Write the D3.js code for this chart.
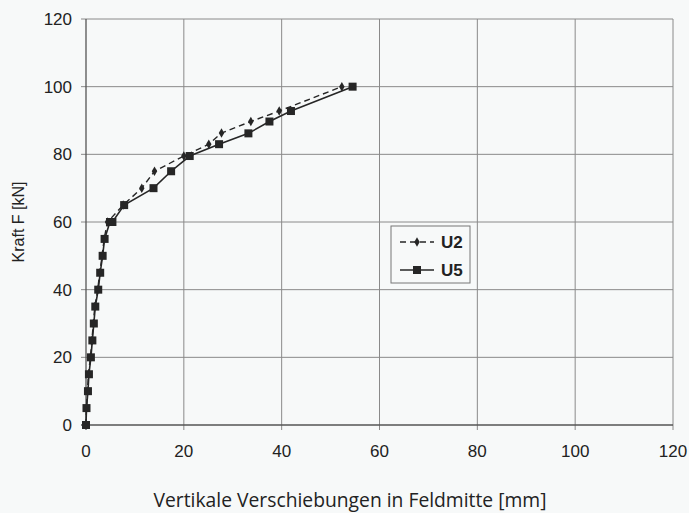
<!DOCTYPE html>
<html><head><meta charset="utf-8">
<script src="https://cdn.jsdelivr.net/npm/d3@7"></script>
<style>
body{margin:0;background:#f7f9f9;}
svg{display:block;}
text{font-family:"Liberation Sans",Arial,sans-serif;fill:#222;}
</style></head><body>
<svg id="c" width="689" height="513"></svg>
<script>
const xTicks = [0,20,40,60,80,100,120];
const yTicks = [0,20,40,60,80,100,120];
const seriesNames = ["U2","U5"];
const u2X = [0,0.1,0.3,0.5,0.9,1.2,1.5,1.8,2.4,2.8,3.3,3.7,4.4,7.6,11.4,14.0,20.0,25.1,27.7,33.7,39.5,52.3];
const u2Y = [0,5,10,15,20,25,30,35,40,45,50,55,60,65,70,75,79.5,83,86.3,89.7,92.8,100];
const u5X = [0,0.1,0.4,0.6,1.0,1.3,1.6,1.9,2.5,2.9,3.4,3.8,4.9,5.4,7.8,13.8,17.4,21.2,27.2,33.2,37.5,41.9,54.5];
const u5Y = [0,5,10,15,20,25,30,35,40,45,50,55,60,60,65,70,75,79.5,83,86.2,89.7,92.8,100];
const xTitle = "Vertikale Verschiebungen in Feldmitte [mm]";
const yTitle = "Kraft F [kN]";

const svg = d3.select("#c");
const L=86, R=673, T=19, B=425;
const x = d3.scaleLinear().domain([0,120]).range([L,R]);
const y = d3.scaleLinear().domain([0,120]).range([B,T]);

const g = svg.append("g");
g.selectAll(".vx").data(xTicks.slice(1)).join("line")
 .attr("x1",d=>x(d)).attr("x2",d=>x(d)).attr("y1",T).attr("y2",B+5)
 .attr("stroke","#8a8a8a").attr("stroke-width",1);
g.selectAll(".hy").data(yTicks.slice(1)).join("line")
 .attr("y1",d=>y(d)).attr("y2",d=>y(d)).attr("x1",L-5).attr("x2",R)
 .attr("stroke","#8a8a8a").attr("stroke-width",1);
svg.append("line").attr("x1",L).attr("x2",L).attr("y1",T).attr("y2",B).attr("stroke","#555").attr("stroke-width",1.3);
svg.append("line").attr("x1",L-5).attr("x2",R).attr("y1",B).attr("y2",B).attr("stroke","#555").attr("stroke-width",1.3);
svg.append("line").attr("x1",L).attr("x2",L).attr("y1",B).attr("y2",B+5).attr("stroke","#555");

svg.selectAll(".xl").data(xTicks).join("text")
 .attr("x",d=>x(d)).attr("y",B+32).attr("text-anchor","middle").attr("font-size",17).text(d=>d);
svg.selectAll(".yl").data(yTicks).join("text")
 .attr("x",L-14).attr("y",d=>y(d)+6).attr("text-anchor","end").attr("font-size",17).text(d=>d);

svg.append("text").attr("x",350).attr("y",507).attr("text-anchor","middle")
 .style("font-family","'Open Sans',sans-serif").attr("font-size",19.3).text(xTitle);
svg.append("text").attr("transform","translate(24,222) rotate(-90)").attr("text-anchor","middle").attr("font-size",16).text(yTitle);

const line = d3.line().x(d=>x(d[0])).y(d=>y(d[1]));
const u2 = u2X.map((v,i)=>[v,u2Y[i]]);
const u5 = u5X.map((v,i)=>[v,u5Y[i]]);
const col="#262626";
svg.append("path").datum(u2).attr("d",line).attr("fill","none").attr("stroke",col).attr("stroke-width",1.4).attr("stroke-dasharray","6,4");
svg.append("path").datum(u5).attr("d",line).attr("fill","none").attr("stroke",col).attr("stroke-width",1.6);
const diamond = d3.symbol().type(d3.symbolDiamond).size(26);
svg.selectAll(".m2").data(u2).join("path").attr("d",diamond)
 .attr("transform",d=>`translate(${x(d[0])},${y(d[1])})`).attr("fill",col);
svg.selectAll(".m5").data(u5).join("rect")
 .attr("x",d=>x(d[0])-4).attr("y",d=>y(d[1])-4).attr("width",8).attr("height",8).attr("fill",col);

const lg = svg.append("g");
lg.append("rect").attr("x",391).attr("y",226).attr("width",79).attr("height",57).attr("fill","#f7f9f9").attr("stroke","#777");
lg.append("line").attr("x1",400).attr("x2",434).attr("y1",242).attr("y2",242).attr("stroke",col).attr("stroke-width",1.4).attr("stroke-dasharray","6,4");
lg.append("path").attr("d",diamond).attr("transform","translate(417,242)").attr("fill",col);
lg.append("line").attr("x1",400).attr("x2",434).attr("y1",270).attr("y2",270).attr("stroke",col).attr("stroke-width",1.6);
lg.append("rect").attr("x",413).attr("y",266).attr("width",8).attr("height",8).attr("fill",col);
lg.selectAll(".lt").data(seriesNames).join("text")
 .attr("x",441).attr("y",(d,i)=>248+i*28).attr("font-size",17).attr("font-weight","bold").text(d=>d);
</script></body></html>
